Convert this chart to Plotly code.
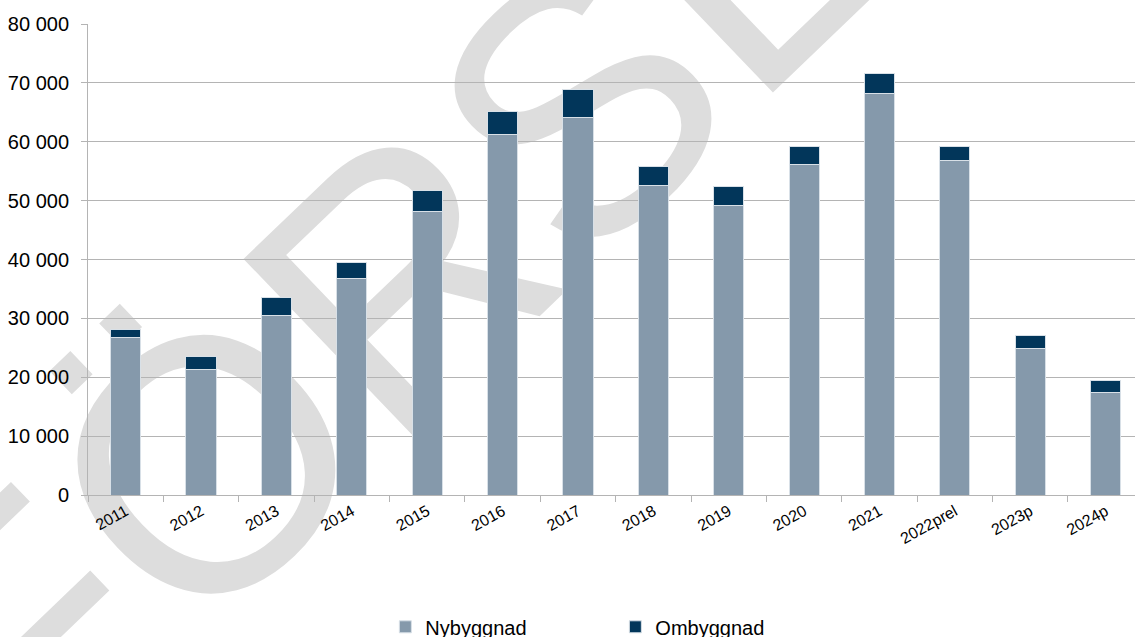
import plotly.graph_objects as go

years = ["2011", "2012", "2013", "2014", "2015", "2016", "2017", "2018", "2019",
         "2020", "2021", "2022prel", "2023p", "2024p"]
nybyggnad = [26700, 21400, 30500, 36850, 48200, 61200, 64050, 52650, 49150,
             56200, 68150, 56800, 24900, 17350]
ombyggnad = [1450, 2050, 3000, 2700, 3500, 4000, 4750, 3100, 3300,
             3000, 3500, 2400, 2250, 2150]
y_ticks = [0, 10000, 20000, 30000, 40000, 50000, 60000, 70000, 80000]

FONT = "Liberation Sans, Arial, sans-serif"
GRID = "#b4b4b4"
W, H = 1135, 637
ML, MR, MT, MB = 88, 0, 24, 142
PW, PH = W - ML - MR, H - MT - MB


def px(x, y):
    return (x - ML) / PW, (H - MB - y) / PH


fig = go.Figure()
fig.add_trace(go.Bar(x=years, y=nybyggnad, name="Nybyggnad",
                     marker=dict(color="#8599ab", line=dict(color="#d8e0e7", width=1))))
fig.add_trace(go.Bar(x=years, y=ombyggnad, name="Ombyggnad",
                     marker=dict(color="#02365a", line=dict(color="#d8e0e7", width=1))))

# watermark behind the grid
cx, cy = px(542, 95)
fig.add_shape(type="rect", xref="paper", yref="paper", x0=cx, x1=cx, y0=cy, y1=cy,
              layer="below", line=dict(width=0), fillcolor="rgba(0,0,0,0)",
              label=dict(text="FÖRSLAG", textangle=-43.8, textposition="middle center",
                         font=dict(family=FONT, size=358, color="#dddddd")))

fig.update_layout(
    width=W, height=H,
    margin=dict(l=ML, r=MR, t=MT, b=MB, autoexpand=False),
    barmode="stack",
    bargap=0.6,
    plot_bgcolor="white",
    paper_bgcolor="white",
    separators=", ",
    font=dict(family=FONT, color="black"),
    showlegend=True,
    legend=dict(orientation="h", x=0.284, xanchor="left", yref="container", y=0.016,
                yanchor="middle", font=dict(size=20, family=FONT), entrywidth=185,
                traceorder="normal", bgcolor="rgba(0,0,0,0)"),
    xaxis=dict(range=[-0.5, 13.39], showgrid=False, showline=True, linecolor=GRID,
               ticks="outside", tickson="boundaries", ticklen=6, tickcolor=GRID,
               tickangle=-29, tickfont=dict(size=16, family=FONT)),
    yaxis=dict(range=[0, 80000], tickvals=y_ticks, tickformat=",d", showgrid=True,
               gridcolor=GRID, zeroline=False, showline=True, linecolor=GRID,
               ticks="outside", ticklen=6, tickcolor=GRID,
               tickfont=dict(size=20, family=FONT), ticklabelstandoff=8),
)

fig.write_html("out.html")
